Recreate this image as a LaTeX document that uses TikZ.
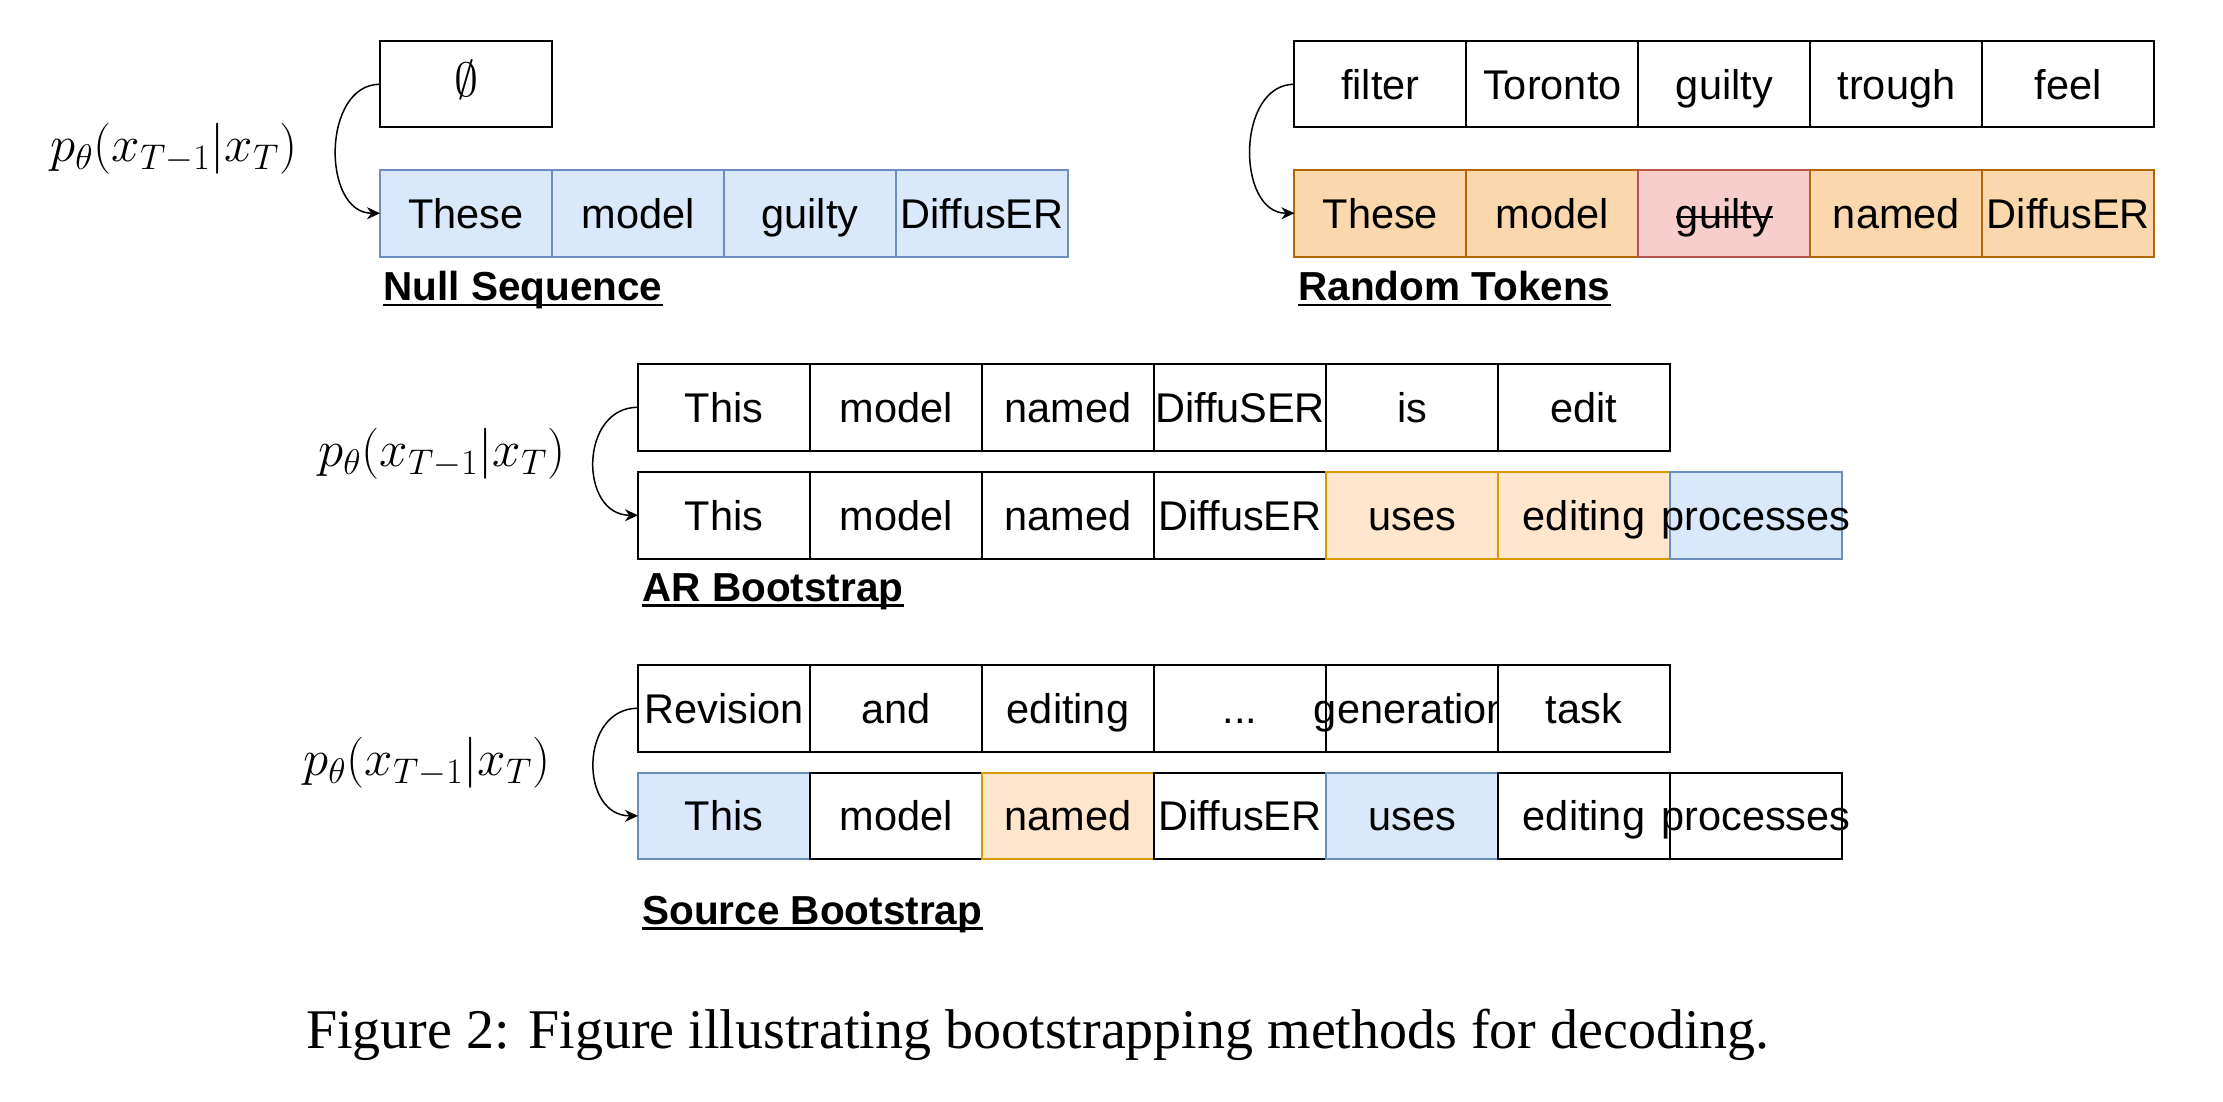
\documentclass[tikz,border=0pt]{standalone}
\usepackage{fix-cm}
\usepackage{fontspec}
\setmainfont{Liberation Sans}
\newfontfamily\capfont{Liberation Serif}
\usetikzlibrary{arrows.meta}
\definecolor{blueF}{HTML}{DAE8FC}
\definecolor{blueD}{HTML}{6C8EBF}
\definecolor{orF}{HTML}{FAD7AC}
\definecolor{orD}{HTML}{B46504}
\definecolor{redF}{HTML}{F8CECC}
\definecolor{redD}{HTML}{B85450}
\definecolor{ltF}{HTML}{FFE6CC}
\definecolor{ltD}{HTML}{D79B00}
\newcommand{\wide}[1]{\makebox[0pt]{#1}}
\begin{document}
\begin{tikzpicture}[x=0.5pt,y=-0.5pt,
  cell/.style={draw=black, fill=white, line width=1pt, minimum width=86pt, minimum height=43.25pt,
    inner sep=0pt, outer sep=0pt, anchor=north west, font=\fontsize{20.75}{24}\selectfont,
    text height=14.8pt, text depth=0pt},
  bluecell/.style={cell, fill=blueF, draw=blueD},
  orcell/.style={cell, fill=orF, draw=orD},
  redcell/.style={cell, fill=redF, draw=redD},
  ltcell/.style={cell, fill=ltF, draw=ltD},
  grouplabel/.style={anchor=base west, inner sep=0pt, font=\fontsize{20.25}{24}\selectfont\bfseries},
  ulinestyle/.style={line width=1.1pt},
  mathlabel/.style={inner sep=0pt, font=\fontsize{25.5}{30}\selectfont},
  conn/.style={line width=0.75pt, -{Stealth[length=6.5pt,width=6pt]}}
]
\useasboundingbox (0,0) rectangle (2223,1102);

% ---------- Null Sequence ----------
\node[mathlabel] (m1) at (174,149) {$p_\theta(x_{T-1}|x_T)$};
\node[cell, font=\fontsize{24}{26}\selectfont, text height=12pt] (z) at (380,41) {$\emptyset$};
\node[bluecell] (n1) at (380,170) {These};
\node[bluecell] (n2) at (552,170) {model};
\node[bluecell] (n3) at (724,170) {guilty};
\node[bluecell] (n4) at (896,170) {DiffusER};
\draw[conn] (z.west) to[out=180,in=180,looseness=1.16] (n1.west);
\node[grouplabel] (l1) at (383,300.5) {Null Sequence};
\draw[ulinestyle] ([yshift=-2.2pt]l1.base west) -- ([yshift=-2.2pt]l1.base east);

% ---------- Random Tokens ----------
\node[cell] (rt1) at (1294.4,41) {filter};
\node[cell] (rt2) at (1466.4,41) {Toronto};
\node[cell] (rt3) at (1638.4,41) {guilty};
\node[cell] (rt4) at (1810.4,41) {trough};
\node[cell] (rt5) at (1982.4,41) {feel};
\node[orcell] (rb1) at (1294.4,170) {These};
\node[orcell] (rb2) at (1466.4,170) {model};
\node[redcell] (rb3) at (1638.4,170) {guilty};
\draw[line width=1.2pt] ([xshift=-24.2pt,yshift=5.5pt]rb3.base) -- ([xshift=24.2pt,yshift=5.5pt]rb3.base);
\node[orcell] (rb4) at (1810.4,170) {named};
\node[orcell] (rb5) at (1982.4,170) {DiffusER};
\draw[conn] (rt1.west) to[out=180,in=180,looseness=1.16] (rb1.west);
\node[grouplabel] (l2) at (1298,300.5) {Random Tokens};
\draw[ulinestyle] ([yshift=-2.2pt]l2.base west) -- ([yshift=-2.2pt]l2.base east);

% ---------- AR Bootstrap ----------
\node[mathlabel] (m2) at (442,454) {$p_\theta(x_{T-1}|x_T)$};
\node[cell] (at1) at (638,364) {This};
\node[cell] (at2) at (810,364) {model};
\node[cell] (at3) at (982,364) {named};
\node[cell] (at4) at (1154,364) {DiffuSER};
\node[cell] (at5) at (1326,364) {is};
\node[cell] (at6) at (1498,364) {edit};
\node[cell] (ab1) at (638,472) {This};
\node[cell] (ab2) at (810,472) {model};
\node[cell] (ab3) at (982,472) {named};
\node[cell] (ab4) at (1154,472) {DiffusER};
\node[ltcell] (ab5) at (1326,472) {uses};
\node[ltcell] (ab6) at (1498,472) {editing};
\node[bluecell] (ab7) at (1670,472) {\wide{processes}};
\draw[conn] (at1.west) to[out=180,in=180,looseness=1.4] (ab1.west);
\node[grouplabel] (l3) at (642,601) {AR Bootstrap};
\draw[ulinestyle] ([yshift=-2.2pt]l3.base west) -- ([yshift=-2.2pt]l3.base east);

% ---------- Source Bootstrap ----------
\node[mathlabel] (m3) at (427,763) {$p_\theta(x_{T-1}|x_T)$};
\node[cell] (st1) at (638,665) {\wide{Revision}};
\node[cell] (st2) at (810,665) {and};
\node[cell] (st3) at (982,665) {editing};
\node[cell] (st4) at (1154,665) {...};
\node[cell] (st5) at (1326,665) {\wide{generation}};
\node[cell] (st6) at (1498,665) {task};
\node[bluecell] (sb1) at (638,772.6) {This};
\node[cell] (sb2) at (810,772.6) {model};
\node[ltcell] (sb3) at (982,772.6) {named};
\node[cell] (sb4) at (1154,772.6) {\wide{DiffusER}};
\node[bluecell] (sb5) at (1326,772.6) {uses};
\node[cell] (sb6) at (1498,772.6) {editing};
\node[cell] (sb7) at (1670,772.6) {\wide{processes}};
\draw[conn] (st1.west) to[out=180,in=180,looseness=1.4] (sb1.west);
\node[grouplabel] (l4) at (642,924) {Source Bootstrap};
\draw[ulinestyle] ([yshift=-2.2pt]l4.base west) -- ([yshift=-2.2pt]l4.base east);

% ---------- Caption ----------
\node[anchor=base, inner sep=0pt, font=\capfont\fontsize{28}{32}\selectfont] (cap) at (1038,1048)
  {Figure 2: Figure illustrating bootstrapping methods for decoding.};
\end{tikzpicture}
\end{document}
